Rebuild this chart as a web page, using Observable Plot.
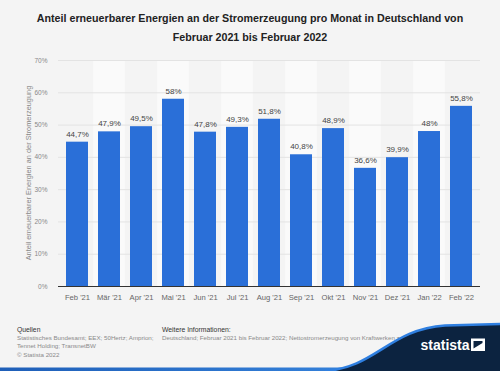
<!DOCTYPE html>
<html>
<head>
<meta charset="utf-8">
<script src="https://cdn.jsdelivr.net/npm/d3@7"></script>
<script src="https://cdn.jsdelivr.net/npm/@observablehq/plot@0.6"></script>
<style>
  html, body { margin: 0; padding: 0; background: #f4f4f4; }
  #wrap { position: relative; width: 500px; height: 371px; overflow: hidden; font-family: "Liberation Sans", Arial, sans-serif; background: #f4f4f4; }
  #title { position: absolute; left: 0; top: 9px; width: 500px; text-align: center; font-weight: bold; font-size: 10.7px; line-height: 18.5px; color: #222; }
  #chart { position: absolute; left: 0; top: 0; }
  #ylabel { position: absolute; left: 28px; top: 173px; transform: translate(-50%, -50%) rotate(-90deg); white-space: nowrap; font-size: 7.4px; color: #888; }
  .foot { position: absolute; font-size: 6.2px; line-height: 8.2px; color: #8a8a8a; }
  .foot b { font-weight: normal; color: #333; font-size: 6.8px; }
  #deco { position: absolute; left: 0; top: 0; }
</style>
</head>
<body>
<div id="wrap">
  <div id="chart"></div>
  <div id="title">Anteil erneuerbarer Energien an der Stromerzeugung pro Monat in Deutschland von<br>Februar 2021 bis Februar 2022</div>
  <div id="ylabel">Anteil erneuerbarer Energien an der Stromerzeugung</div>
  <div class="foot" style="left:17px; top:326px;"><b>Quellen</b><br>Statistisches Bundesamt; EEX; 50Hertz; Amprion;<br>Tennet Holding; TransnetBW<br>© Statista 2022</div>
  <div class="foot" style="left:162px; top:326px; white-space:nowrap;"><b>Weitere Informationen:</b><br>Deutschland; Februar 2021 bis Februar 2022; Nettostromerzeugung von Kraftwerken zur öffentlichen</div>
  <svg id="deco" width="500" height="371">
    <defs>
      <linearGradient id="gl" x1="0" x2="1">
        <stop offset="0" stop-color="#1f5fb8"/>
        <stop offset="1" stop-color="#3d8fe8"/>
      </linearGradient>
    </defs>
    <rect x="0" y="367.5" width="500" height="3.5" fill="url(#gl)"/>
    <path d="M325,371 C375,368 390,329 445,325.5 L500,324 L500,371 Z" fill="#0c2340"/>
    <path d="M325,371 C375,368 390,329 445,325.5 L500,324" fill="none" stroke="#2f7fe0" stroke-width="2.5"/>
    <text x="445" y="350" font-family="'Liberation Sans', Arial, sans-serif" font-size="14" font-weight="bold" fill="#ffffff" text-anchor="middle">statista</text>
    <path d="M471,338.5 L485,338.5 L485,351 L471,351 Z M473.5,348.5 L482.5,343 L482.5,341 L473.5,341 Z" fill="#ffffff" fill-rule="evenodd"/>
  </svg>
</div>
<script>
const months = ["Feb '21", "Mär '21", "Apr '21", "Mai '21", "Jun '21", "Jul '21", "Aug '21", "Sep '21", "Okt '21", "Nov '21", "Dez '21", "Jan '22", "Feb '22"];
const shares = [44.7, 47.9, 49.5, 58, 47.8, 49.3, 51.8, 40.8, 48.9, 36.6, 39.9, 48, 55.8];
const yTicks = [0, 10, 20, 30, 40, 50, 60, 70];

const data = months.map((m, i) => ({month: m, value: shares[i], idx: i}));
const fmt = v => String(v).replace(".", ",") + "%";

const chart = Plot.plot({
  width: 500,
  height: 371,
  marginLeft: 58,
  marginRight: 20,
  marginTop: 60,
  marginBottom: 85,
  style: {background: "transparent", fontFamily: "'Liberation Sans', Arial, sans-serif"},
  x: {domain: months, paddingInner: 0.3, paddingOuter: 0.15, label: null},
  y: {domain: [0, 70], label: null},
  marks: [
    Plot.barY(data.filter(d => d.idx % 2 === 1), {x: "month", y1: 0, y2: 70, fill: "#fafafa", insetLeft: -4.86, insetRight: -4.86}),
    Plot.gridY(yTicks, {stroke: "#e3e3e3", strokeOpacity: 1, strokeWidth: 1}),
    Plot.barY(data, {x: "month", y: "value", fill: "#2a6fd8"}),
    Plot.ruleY([0], {stroke: "#333", strokeWidth: 1}),
    Plot.text(data, {x: "month", y: "value", text: d => fmt(d.value), dy: -8, fontSize: 8, fill: "#444"}),
    Plot.axisY(yTicks, {tickFormat: d => d + "%", tickSize: 0, tickPadding: 11, fontSize: 6.5, color: "#888", label: null}),
    Plot.axisX({tickSize: 0, tickPadding: 8, fontSize: 7.6, color: "#666", label: null})
  ]
});
document.getElementById("chart").appendChild(chart);
</script>
</body>
</html>
